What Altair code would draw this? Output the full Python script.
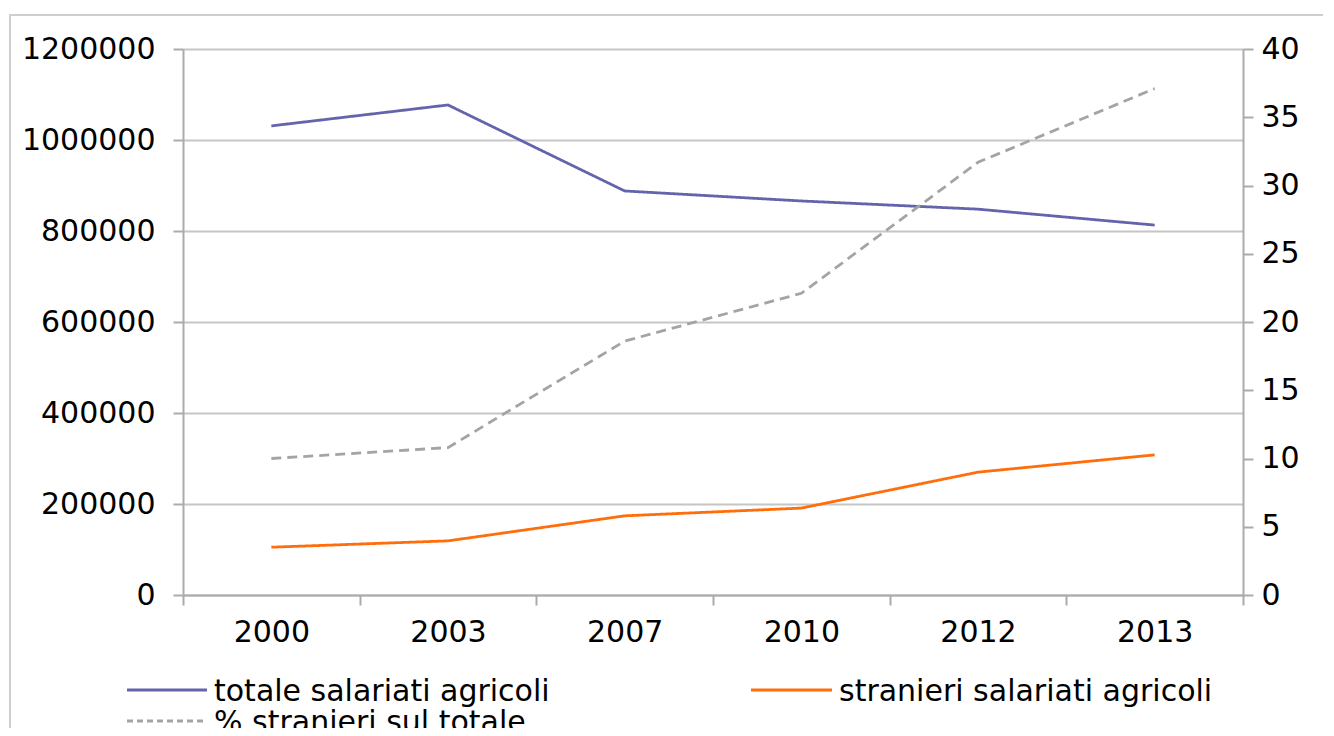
import altair as alt
import pandas as pd

years = ["2000", "2003", "2007", "2010", "2012", "2013"]
totale = [1031000, 1077000, 888000, 866000, 848000, 813000]
stranieri = [105000, 119000, 174000, 191000, 270000, 308000]
perc = [10.0, 10.8, 18.6, 22.1, 31.7, 37.1]

s_tot = "totale salariati agricoli"
s_str = "stranieri salariati agricoli"
s_pct = "% stranieri sul totale"
series = [s_tot, s_str, s_pct]
colors = ["#6464ac", "#ff6e0a", "#a4a4a4"]
dashes = [[1, 0], [1, 0], [10, 6]]

left_ticks = [0, 200000, 400000, 600000, 800000, 1000000, 1200000]
right_ticks = [0, 5, 10, 15, 20, 25, 30, 35, 40]

left_df = pd.DataFrame({
    "anno": years * 2,
    "valore": totale + stranieri,
    "serie": [s_tot] * len(years) + [s_str] * len(years),
})
right_df = pd.DataFrame({"anno": years, "valore": perc, "serie": [s_pct] * len(years)})

FONT = "DejaVu Sans"
GRAY = "#ababab"
FS = 30

axis_common = dict(
    title=None, domainColor=GRAY, domainWidth=2, tickColor=GRAY, tickWidth=2,
    tickSize=10, labelFont=FONT, labelFontSize=FS, labelColor="black",
)

x_enc = alt.X(
    "anno:O", sort=years, bandPosition=0.5,
    scale=alt.Scale(type="band", paddingInner=0, paddingOuter=0),
    axis=alt.Axis(labelAngle=0, tickBand="extent", grid=False, labelPadding=12,
                  **axis_common),
)
color_enc = alt.Color("serie:N", scale=alt.Scale(domain=series, range=colors), legend=None)
dash_enc = alt.StrokeDash("serie:N", scale=alt.Scale(domain=series, range=dashes), legend=None)

one = pd.DataFrame({"k": [0]})

frame = alt.Chart(one).mark_rect(
    fill=None, stroke="#cfcfcf", strokeWidth=2
).encode(x=alt.value(-173), x2=alt.value(1200), y=alt.value(-34), y2=alt.value(800))

left = alt.Chart(left_df).mark_line(strokeWidth=2.8).encode(
    x=x_enc,
    y=alt.Y("valore:Q", scale=alt.Scale(domain=[0, 1200000], nice=False),
            axis=alt.Axis(values=left_ticks, format="d", grid=True,
                          gridColor="#c6c6c6", gridWidth=2, labelPadding=18,
                          **axis_common)),
    color=color_enc,
    strokeDash=dash_enc,
)

right = alt.Chart(right_df).mark_line(strokeWidth=2.8).encode(
    x=x_enc,
    y=alt.Y("valore:Q", scale=alt.Scale(domain=[0, 40], nice=False),
            axis=alt.Axis(orient="right", values=right_ticks, grid=False,
                          labelPadding=8, **axis_common)),
    color=color_enc,
    strokeDash=dash_enc,
)

# manual legend (positions relative to plot origin)
legend_layers = []
legend_spec = [
    (s_tot, colors[0], [1, 0], 127, 207, 690),
    (s_str, colors[1], [1, 0], 751, 832, 690),
    (s_pct, colors[2], [6, 4], 127, 207, 721),
]
for name, col, dash, x0, x1, yy in legend_spec:
    legend_layers.append(
        alt.Chart(one).mark_rule(color=col, strokeWidth=2.8, strokeDash=dash).encode(
            x=alt.value(x0 - 183), x2=alt.value(x1 - 183), y=alt.value(yy - 49)
        )
    )
    legend_layers.append(
        alt.Chart(one).mark_text(
            align="left", baseline="middle", font=FONT, fontSize=FS, color="black"
        ).encode(x=alt.value(x1 - 183 + 7), y=alt.value(yy - 49 + 2), text=alt.value(name))
    )

chart = alt.layer(frame, left, right, *legend_layers).resolve_scale(
    y="independent"
).properties(
    width=1060, height=546,
    autosize=alt.AutoSizeParams(type="none"),
    padding={"left": 175, "top": 41, "right": 80, "bottom": 133},
).configure_view(stroke=None).configure(background="white")

chart.save("out.html", embed_options={"renderer": "svg", "actions": False})
